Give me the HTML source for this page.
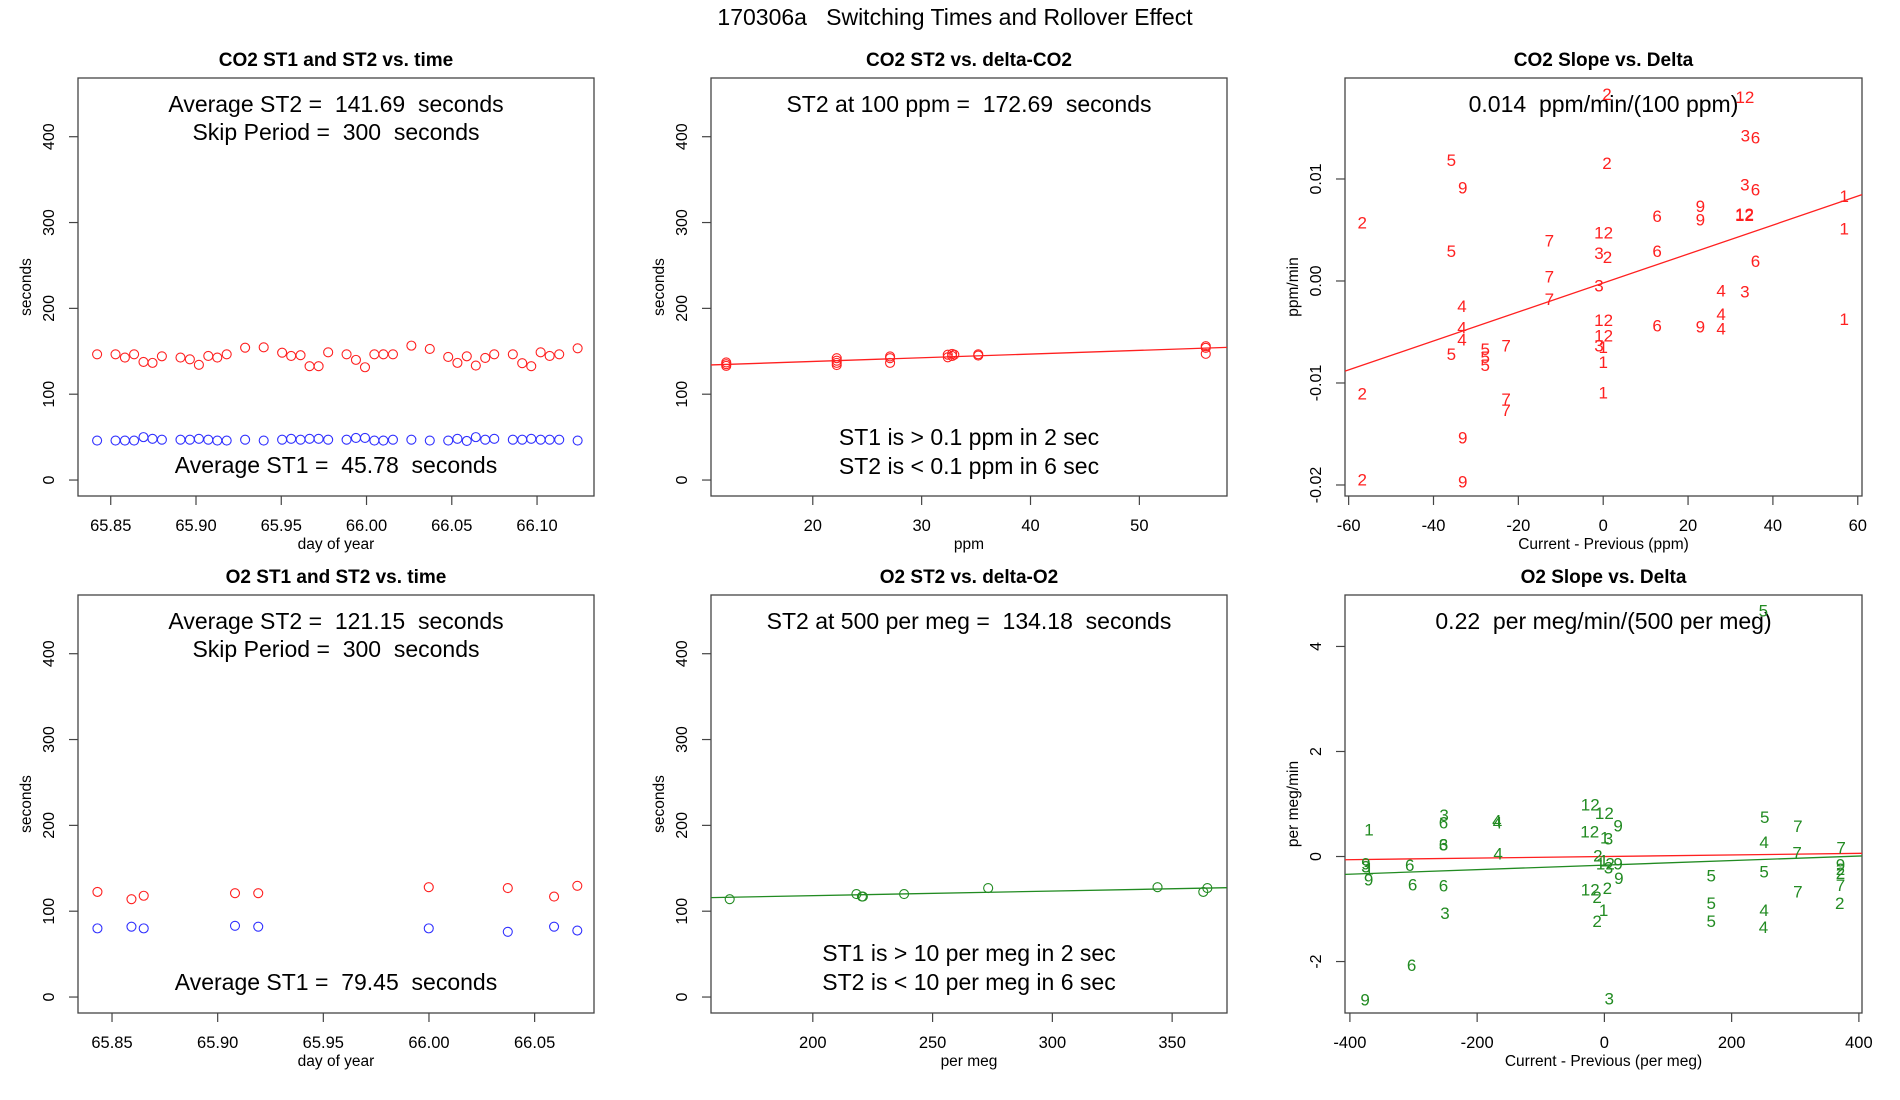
<!DOCTYPE html>
<html><head><meta charset="utf-8"><style>
html,body{margin:0;padding:0;background:#fff}
svg{display:block;font-family:"Liberation Sans",Arial,sans-serif}
text{white-space:pre}
</style></head><body>
<svg id="fig" width="1900" height="1100" viewBox="0 0 1900 1100" xmlns="http://www.w3.org/2000/svg" xml:space="preserve">
<rect x="0" y="0" width="1900" height="1100" fill="#fff"/>
<text x="955" y="25" font-size="23" text-anchor="middle">170306a   Switching Times and Rollover Effect</text>
</svg>
<script>
// ---- Panel 1: CO2 ST1/ST2 vs time ----
const co2Days = [65.8420,65.8528,65.8583,65.8637,65.8692,65.8745,65.8800,65.8909,65.8964,65.9017,65.9072,65.9125,65.9180,65.9288,65.9397,65.9505,65.9558,65.9613,65.9666,65.9719,65.9775,65.9883,65.9938,65.9991,66.0046,66.0099,66.0155,66.0263,66.0371,66.0479,66.0533,66.0588,66.0641,66.0696,66.0749,66.0858,66.0913,66.0966,66.1021,66.1074,66.1130,66.1238];
const co2ST2 = [146.5,146.5,142.7,146.5,137.6,136.5,144.2,142.7,140.7,134.2,144.6,142.7,146.5,154.2,154.6,148.4,144.6,145.4,132.6,132.6,148.8,146.5,140,131.4,146.5,146.5,146.5,156.6,152.7,143.4,136.5,144.2,133.4,142.3,146.5,146.5,136.1,132.6,148.8,144.6,146.5,153.5];
const co2ST1 = [46,46,46,46,50,48,47,47,47,48,47,46,46,47,46,47,48,47,48,48,47,47,49,49,46,46,47,47,46,46,48,45.5,50,47,48,47,47,48,47,47,47,46];
const p1XTicks = [65.85,65.90,65.95,66.00,66.05,66.10];
const p1XLabels = ["65.85","65.90","65.95","66.00","66.05","66.10"];
// ---- Panel 2: CO2 ST2 vs delta ----
const co2Delta = [12.05,12.05,12.05,22.2,22.2,22.2,22.2,27.1,27.1,27.1,32.4,32.4,32.8,32.8,33.0,35.2,35.2,56.1,56.1,56.1];
const co2DeltaST2 = [135,133,137,142,139,134,136.5,144,142,136.5,146,143,147,144.5,146,146.5,145,156,154,147];
const p2Fit = [129.5, 0.432];
const p2XTicks = [20,30,40,50];
// ---- Panel 3: CO2 slope vs delta ----
const co2SlopeX = [0.9,33.4,33.5,35.9,-35.8,0.9,-33.1,33.4,35.9,56.8,-56.8,12.7,22.9,22.9,33.3,33.3,56.8,0.1,-12.7,-35.8,-1.0,1.0,12.7,35.9,-12.7,-1.0,27.8,33.4,-12.7,-33.3,0.1,27.8,56.8,12.7,22.9,27.8,-33.3,0.1,-33.3,-1.0,0,-22.9,-35.8,-27.8,-27.8,-27.8,0,-56.8,0,-22.9,-22.9,-33.1,-56.8,-33.1];
const co2SlopeY = [0.0184,0.0181,0.0143,0.0141,0.0119,0.0116,0.0092,0.0095,0.0090,0.0084,0.0058,0.0064,0.0074,0.0061,0.0065,0.0066,0.0052,0.0048,0.0040,0.0030,0.0028,0.0024,0.0030,0.0020,0.0005,-0.0004,-0.0009,-0.0010,-0.0017,-0.0024,-0.0038,-0.0032,-0.0037,-0.0043,-0.0044,-0.0046,-0.0045,-0.0053,-0.0057,-0.0063,-0.0064,-0.0063,-0.0071,-0.0066,-0.0074,-0.0082,-0.0079,-0.0110,-0.0109,-0.0115,-0.0126,-0.0153,-0.0194,-0.0196];
const co2SlopeLbl = ["2","12","3","6","5","2","9","3","6","1","2","6","9","9","12","12","1","12","7","5","3","2","6","6","7","3","4","3","7","4","12","4","1","6","9","4","4","12","4","3","1","7","5","5","5","5","1","2","1","7","7","9","2","9"];
const p3Fit = [-0.0002, 0.000142];
const p3XTicks = [-60,-40,-20,0,20,40,60];
const p3YTicks = [-0.02,-0.01,0,0.01];
const p3YLabels = ["-0.02","-0.01","0.00","0.01"];
// ---- Panel 4: O2 ST1/ST2 vs time ----
const o2Days = [65.8431,65.8592,65.8650,65.9082,65.9192,65.9999,66.0373,66.0592,66.0702];
const o2ST2 = [122.5,114,118,121,121,128,127,117,129.6];
const o2ST1 = [80,82,80,83,82,80,76,82,77.5];
const p4XTicks = [65.85,65.90,65.95,66.00,66.05];
const p4XLabels = ["65.85","65.90","65.95","66.00","66.05"];
// ---- Panel 5: O2 ST2 vs delta ----
const o2Delta = [165.3,218.2,220.5,220.9,238.1,273.2,343.9,363.0,364.7];
const o2DeltaST2 = [114,120,117,117,120,127,128,122.5,127];
const p5Fit = [107.4, 0.05356];
const p5XTicks = [200,250,300,350];
// ---- Panel 6: O2 slope vs delta ----
const o2SlopeX = [249.8,-22.3,0,21.6,-252,-253,-169,-168,252,304,-370,-23,0.6,6.5,-253,-253,251,-167,303,372,-10.3,-375,-370,-375,-370.6,-306,-1,1.5,6.5,21.6,168,251,371,371,371,-301.5,-253,22.8,-22.3,4.7,-11.4,304,371,168,370,-250.5,251,-1.2,-11.4,168,250,-303,-376,7.7];
const o2SlopeY = [4.69,1.00,0.84,0.60,0.80,0.66,0.70,0.66,0.76,0.59,0.52,0.49,0.37,0.35,0.24,0.24,0.29,0.07,0.09,0.18,0.03,-0.12,-0.22,-0.18,-0.43,-0.15,-0.07,-0.12,-0.20,-0.12,-0.35,-0.28,-0.14,-0.23,-0.30,-0.52,-0.54,-0.40,-0.62,-0.59,-0.76,-0.66,-0.53,-0.88,-0.88,-1.07,-1.01,-1.01,-1.22,-1.22,-1.33,-2.06,-2.71,-2.69];
const o2SlopeLbl = ["5","12","12","9","3","6","4","4","5","7","1","12","1","3","3","6","4","4","7","7","2","9","1","3","9","6","1","12","3","9","5","5","9","2","2","6","6","9","12","2","2","7","7","5","2","3","4","1","2","5","4","6","9","3"];
const p6RedFit = [0.0, 0.00015];
const p6GreenFit = [-0.164, 0.000433];
const p6XTicks = [-400,-200,0,200,400];
const p6YTicks = [-2,0,2,4];
const secTicks = [0,100,200,300,400];

const NS = "http://www.w3.org/2000/svg";
const svg = document.getElementById('fig');
function el(tag, attrs, parent){
  const e = document.createElementNS(NS, tag);
  for (const k in attrs) e.setAttribute(k, attrs[k]);
  (parent||svg).appendChild(e);
  return e;
}
function panel(name, box, xlim, ylim){
  const g = el('g', {});
  
  
  const p = {g, box,
    x: v => box[0] + (v - xlim[0]) / (xlim[1] - xlim[0]) * (box[2] - box[0]),
    y: v => box[3] - (v - ylim[0]) / (ylim[1] - ylim[0]) * (box[3] - box[1])};
  return p;
}
function frame(p, title, xlab, ylab){
  const b = p.box;
  const r = el('rect', {x:b[0], y:b[1], width:b[2]-b[0], height:b[3]-b[1], fill:'none', stroke:'#444', 'stroke-width':1.3}, p.g);
  
  
  const t = el('text', {x:(b[0]+b[2])/2, y:b[1]-12, 'font-size':19, 'font-weight':'bold', 'text-anchor':'middle'}, p.g);
  t.textContent = title;
  
  
  const xl = el('text', {x:(b[0]+b[2])/2, y:b[3]+53, 'font-size':15.5, 'text-anchor':'middle'}, p.g);
  xl.textContent = xlab;
  
  
  const cx = b[0]-47, cy = (b[1]+b[3])/2;
  const yl = el('text', {x:cx, y:cy, 'font-size':15.5, 'text-anchor':'middle', transform:`rotate(-90 ${cx} ${cy})`}, p.g);
  yl.textContent = ylab;
  
  
}
function xAxis(p, ticks, labels){
  const b = p.box;
  for (let i=0;i<ticks.length;i++){
    const xx = p.x(ticks[i]);
    const tk = el('line', {x1:xx, x2:xx, y1:b[3], y2:b[3]+9, stroke:'#444', 'stroke-width':1.2}, p.g);
    
    
    const tl = el('text', {x:xx, y:b[3]+35, 'font-size':16.5, 'text-anchor':'middle'}, p.g);
    tl.textContent = labels ? labels[i] : String(ticks[i]);
    
    
  }
}
function yAxis(p, ticks, labels){
  const b = p.box;
  for (let i=0;i<ticks.length;i++){
    const yy = p.y(ticks[i]);
    const tk = el('line', {x1:b[0]-9, x2:b[0], y1:yy, y2:yy, stroke:'#444', 'stroke-width':1.2}, p.g);
    
    
    const lx = b[0]-24;
    const tl = el('text', {x:lx, y:yy, 'font-size':16, 'text-anchor':'middle', transform:`rotate(-90 ${lx} ${yy})`}, p.g);
    tl.textContent = labels ? labels[i] : String(ticks[i]);
    
    
  }
}
function circles(p, xs, ys, color, name){
  for (let i=0;i<xs.length;i++){
    const c = el('circle', {cx:p.x(xs[i]), cy:p.y(ys[i]), r:4.5, fill:'none', stroke:color, 'stroke-width':1.1}, p.g);
    
    
  }
}
function labels(p, xs, ys, lbl, color){
  for (let i=0;i<xs.length;i++){
    const t = el('text', {x:p.x(xs[i]), y:p.y(ys[i])+6.5, 'font-size':17, fill:color, 'text-anchor':'middle'}, p.g);
    t.textContent = lbl[i];
    
    
  }
}
function fitLine(p, fit, xlim, color, name){
  const l = el('line', {x1:p.x(xlim[0]), y1:p.y(fit[0]+fit[1]*xlim[0]), x2:p.x(xlim[1]), y2:p.y(fit[0]+fit[1]*xlim[1]), stroke:color, 'stroke-width':1.3}, p.g);
  
  
}
function note(p, y, txt){
  const t = el('text', {x:(p.box[0]+p.box[2])/2, y:y, 'font-size':23, 'text-anchor':'middle'}, p.g);
  t.textContent = txt;
  
  
}
const secY = [-18.6, 468.4];
const R1 = [78, 496], R2 = [595, 1013];
const C = [[78,594],[711,1227],[1345,1862]];
const RED = '#ff2020', BLUE = '#3030ff', GREEN = '#228b22';

// Panel 1
let p = panel('co2-time-panel', [C[0][0],R1[0],C[0][1],R1[1]], [65.8308,66.1334], secY);
frame(p, 'CO2 ST1 and ST2 vs. time', 'day of year', 'seconds');
xAxis(p, p1XTicks, p1XLabels); yAxis(p, secTicks);
circles(p, co2Days, co2ST2, RED, 'st2-point');
circles(p, co2Days, co2ST1, BLUE, 'st1-point');
note(p, 112, 'Average ST2 =  141.69  seconds');
note(p, 140, 'Skip Period =  300  seconds');
note(p, 473, 'Average ST1 =  45.78  seconds');

// Panel 2
let xl2 = [10.65, 58.05];
p = panel('co2-delta-panel', [C[1][0],R1[0],C[1][1],R1[1]], xl2, secY);
frame(p, 'CO2 ST2 vs. delta-CO2', 'ppm', 'seconds');
xAxis(p, p2XTicks); yAxis(p, secTicks);
fitLine(p, p2Fit, xl2, RED, 'fit-line');
circles(p, co2Delta, co2DeltaST2, RED, 'st2-point');
note(p, 112, 'ST2 at 100 ppm =  172.69  seconds');
note(p, 445, 'ST1 is > 0.1 ppm in 2 sec');
note(p, 474, 'ST2 is < 0.1 ppm in 6 sec');

// Panel 3
let xl3 = [-60.86, 61.0];
p = panel('co2-slope-panel', [C[2][0],R1[0],C[2][1],R1[1]], xl3, [-0.02108, 0.0199]);
frame(p, 'CO2 Slope vs. Delta', 'Current - Previous (ppm)', 'ppm/min');
xAxis(p, p3XTicks); yAxis(p, p3YTicks, p3YLabels);
fitLine(p, p3Fit, xl3, RED, 'fit-line');
note(p, 112, '0.014  ppm/min/(100 ppm)');
labels(p, co2SlopeX, co2SlopeY, co2SlopeLbl, RED);

// Panel 4
p = panel('o2-time-panel', [C[0][0],R2[0],C[0][1],R2[1]], [65.8339, 66.0781], secY);
frame(p, 'O2 ST1 and ST2 vs. time', 'day of year', 'seconds');
xAxis(p, p4XTicks, p4XLabels); yAxis(p, secTicks);
circles(p, o2Days, o2ST2, RED, 'st2-point');
circles(p, o2Days, o2ST1, BLUE, 'st1-point');
note(p, 629, 'Average ST2 =  121.15  seconds');
note(p, 657, 'Skip Period =  300  seconds');
note(p, 990, 'Average ST1 =  79.45  seconds');

// Panel 5
let xl5 = [157.5, 372.9];
p = panel('o2-delta-panel', [C[1][0],R2[0],C[1][1],R2[1]], xl5, secY);
frame(p, 'O2 ST2 vs. delta-O2', 'per meg', 'seconds');
xAxis(p, p5XTicks); yAxis(p, secTicks);
fitLine(p, p5Fit, xl5, GREEN, 'fit-line');
circles(p, o2Delta, o2DeltaST2, GREEN, 'st2-point');
note(p, 629, 'ST2 at 500 per meg =  134.18  seconds');
note(p, 961, 'ST1 is > 10 per meg in 2 sec');
note(p, 990, 'ST2 is < 10 per meg in 6 sec');

// Panel 6
let xl6 = [-407.7, 404.9];
p = panel('o2-slope-panel', [C[2][0],R2[0],C[2][1],R2[1]], xl6, [-2.98, 4.98]);
frame(p, 'O2 Slope vs. Delta', 'Current - Previous (per meg)', 'per meg/min');
xAxis(p, p6XTicks); yAxis(p, p6YTicks);
fitLine(p, p6RedFit, xl6, RED, 'red-fit-line');
fitLine(p, p6GreenFit, xl6, GREEN, 'green-fit-line');
note(p, 629, '0.22  per meg/min/(500 per meg)');
labels(p, o2SlopeX, o2SlopeY, o2SlopeLbl, GREEN);
</script>
</body></html>
